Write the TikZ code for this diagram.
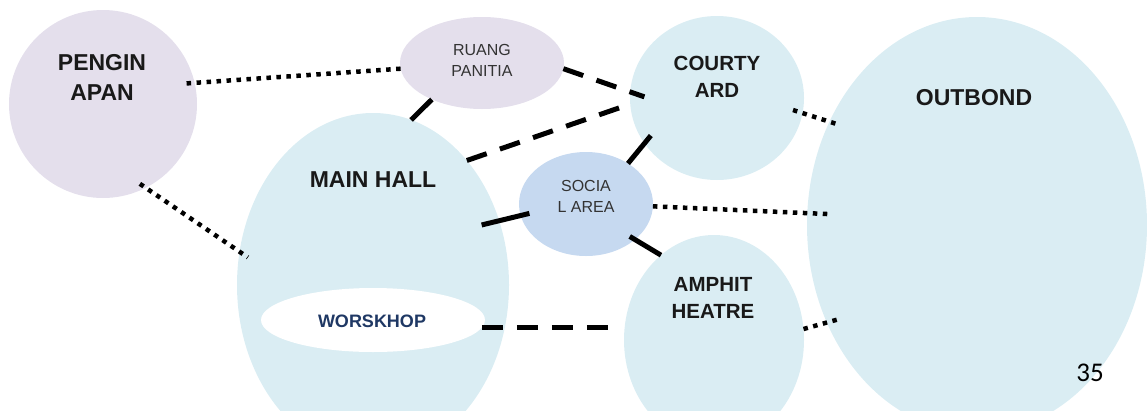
\documentclass[tikz,border=0pt]{standalone}
\usepackage{fontspec}
\setmainfont{Liberation Sans}
\newfontfamily\numfont{Carlito}
\usetikzlibrary{shapes.geometric}

\definecolor{lilac}{HTML}{E4DFEC}
\definecolor{paleblue}{HTML}{DAEDF3}
\definecolor{socialblue}{HTML}{C6D9F0}
\definecolor{navy}{HTML}{1F3864}
\definecolor{softblack}{HTML}{333333}

\tikzset{
  zone/.style={ellipse, draw=none, inner sep=0pt, outer sep=0pt},
  bigtitle/.style={align=center, font=\fontsize{23}{30}\selectfont\bfseries, text=black!90},
  midtitle/.style={align=center, font=\fontsize{20.5}{27}\selectfont\bfseries, text=black!90},
  smalltitle/.style={align=center, font=\fontsize{16}{21}\selectfont, text=softblack},
  solidline/.style={line width=5pt, black},
  dashline/.style={line width=5pt, black, dash pattern=on 21pt off 14pt},
  dotline/.style={line width=4.5pt, black, dash pattern=on 4.5pt off 5.5pt},
}

\begin{document}
\begin{tikzpicture}[x=1pt, y=-1pt]
\useasboundingbox (0,0) rectangle (1147,410);

% room zones
\node[zone, fill=lilac, minimum width=188pt, minimum height=188pt] (pg) at (103,104) {};
\node[zone, fill=lilac, minimum width=164pt, minimum height=92pt] (rp) at (482,63) {};
\node[zone, fill=paleblue, minimum width=174pt, minimum height=164pt] (cy) at (717,98) {};
\node[zone, fill=paleblue, minimum width=272pt, minimum height=344pt] (mh) at (373,285) {};
\node[zone, fill=white, minimum width=224pt, minimum height=64pt] (ws) at (373,320) {};
\node[zone, fill=socialblue, minimum width=134pt, minimum height=104pt] (sa) at (586,204) {};
\node[zone, fill=paleblue, minimum width=180pt, minimum height=210pt] (am) at (714,340) {};
\node[zone, fill=paleblue, minimum width=340pt, minimum height=416pt] (ob) at (977,225) {};

% relations between zones
\draw[dotline, shorten <=-8pt] (pg.13) -- (rp.184);
\draw[dotline, shorten <=-7pt, shorten >=-10pt] (pg.-63) -- (mh.166);
\draw[solidline] (rp.216) -- (mh.77);
\draw[dashline, shorten >=-15pt] (rp.-4) -- (cy.176);
\draw[dashline] (mh.53) -- (cy.184);
\draw[solidline, shorten <=-10pt] (cy.212) -- (sa.44);
\draw[solidline, shorten <=-18pt, shorten >=-9pt] (mh.27) -- (sa.190);
\draw[solidline, shorten <=-6pt] (sa.-36) -- (am.122);
\draw[dotline, shorten >=-21pt] (sa.-2) -- (ob.176);
\draw[dotline, shorten <=-10pt, shorten >=-9pt] (cy.-10) -- (ob.145);
\draw[dotline, shorten >=-13pt] (am.7) -- (ob.213);
\draw[dashline, shorten >=10pt] (ws.-4) -- (ws.-4 -| am.west);

% labels
\node[bigtitle] (pg-t) at (102,77) {PENGIN\\APAN};
\node[smalltitle] (rp-t) at (482,60) {RUANG\\PANITIA};
\node[midtitle] (cy-t) at (717,76.5) {COURTY\\ARD};
\node[bigtitle] (mh-t) at (373,180) {MAIN HALL};
\node[font=\fontsize{18}{22}\selectfont\bfseries, text=navy] (ws-t) at (372,321) {WORSKHOP};
\node[smalltitle] (sa-t) at (586,196) {SOCIA\\L AREA};
\node[midtitle] (am-t) at (713,297.5) {AMPHIT\\HEATRE};
\node[bigtitle] (ob-t) at (974,98) {OUTBOND};
\node[font=\numfont\fontsize{27}{30}\selectfont] (pnum) at (1090,373) {35};
\end{tikzpicture}
\end{document}
